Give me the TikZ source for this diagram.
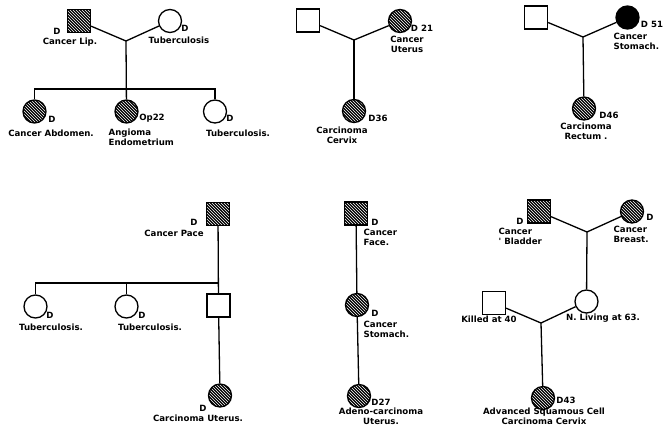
\documentclass[tikz,border=0pt]{standalone}
\usepackage{fontspec}
\usepackage{tikz}
\usetikzlibrary{patterns}
\newfontfamily\pedfont{DejaVu Sans}

\begin{document}
\begin{tikzpicture}[x=1pt,y=-1pt,line width=1.3pt,
    male/.style={draw,rectangle,minimum size=23pt,inner sep=0pt},
    female/.style={draw,circle,minimum size=23pt,inner sep=0pt},
    hatched/.style={preaction={fill=black},pattern=north west lines,pattern color=white},
    dark/.style={fill=black},
    lbl/.style={font=\pedfont\bfseries\fontsize{8.6}{10}\selectfont,inner sep=0pt,align=center}]
    \useasboundingbox (0,0) rectangle (669,426);
    % top left
    \node[male,hatched] (a1) at (79,21) {};
    \node[female] (a2) at (170,21) {};
    \coordinate (aj) at (126,41);
    \coordinate (as) at (126,89);
    \node[female,hatched] (a3) at (34.5,111.5) {};
    \node[female,hatched] (a4) at (126.5,111.5) {};
    \node[female] (a5) at (215,111.5) {};
    \draw (a1) -- (aj) -- (a2);
    \draw (aj) -- (a4);
    \draw (a3) -- (a3 |- as) -- (a5 |- as) -- (a5);
    \node[lbl] at (57,31) {D};
    \node[lbl] at (70,42) {Cancer Lip.};
    \node[lbl] at (185,28) {D};
    \node[lbl] at (179,40) {Tuberculosis};
    \node[lbl] at (52,119) {D};
    \node[lbl] at (51,133) {Cancer Abdomen.};
    \node[lbl] at (152,118) {Op22};
    \node[lbl,anchor=west,align=left] at (108,137) {Angioma\\Endometrium};
    \node[lbl] at (230,118) {D};
    \node[lbl] at (238,133) {Tuberculosis.};
    % top middle
    \node[male] (b1) at (308,20.5) {};
    \node[female,hatched] (b2) at (400,21) {};
    \coordinate (bj) at (354,40);
    \node[female,hatched] (b3) at (354,111) {};
    \draw (b1) -- (bj) -- (b2);
    \draw (bj) -- (b3);
    \node[lbl] at (422,28) {D 21};
    \node[lbl] at (407,44) {Cancer\\Uterus};
    \node[lbl] at (378,118) {D36};
    \node[lbl] at (342,135) {Carcinoma\\Cervix};
    % top right
    \node[male] (c1) at (536,17.5) {};
    \node[female,dark] (c2) at (627.5,17.5) {};
    \coordinate (cj) at (583,37);
    \node[female,hatched] (c3) at (584,108.5) {};
    \draw (c1) -- (cj) -- (c2);
    \draw (cj) -- (c3);
    \node[lbl] at (652,24) {D 51};
    \node[lbl,anchor=west,align=left] at (613,41) {Cancer\\Stomach.};
    \node[lbl] at (609,115) {D46};
    \node[lbl] at (586,131) {Carcinoma\\Rectum .};
    % bottom left
    \node[male,hatched] (d1) at (218,214) {};
    \coordinate (ds) at (218,283);
    \node[female] (d2) at (35.5,306.5) {};
    \node[female] (d3) at (126.5,306.5) {};
    \node[male] (d4) at (218.5,305.5) {};
    \node[female,hatched] (d5) at (220,395.5) {};
    \draw (d1) -- (d4);
    \draw (d2) -- (d2 |- ds) -- (ds);
    \draw (d3) -- (d3 |- ds);
    \draw (d4) -- (d5);
    \node[lbl] at (194,222) {D};
    \node[lbl] at (174,233) {Cancer Pace};
    \node[lbl] at (50,315) {D};
    \node[lbl] at (51,327) {Tuberculosis.};
    \node[lbl] at (142,315) {D};
    \node[lbl] at (150,327) {Tuberculosis.};
    \node[lbl] at (203,408) {D};
    \node[lbl] at (198,418) {Carcinoma Uterus.};
    % bottom middle
    \node[male,hatched] (e1) at (356,213.5) {};
    \node[female,hatched] (e2) at (357,305) {};
    \node[female,hatched] (e3) at (359,396) {};
    \draw (e1) -- (e2) -- (e3);
    \node[lbl] at (375,222) {D};
    \node[lbl,anchor=west,align=left] at (363,237) {Cancer\\Face.};
    \node[lbl] at (375,313) {D};
    \node[lbl,anchor=west,align=left] at (363,329) {Cancer\\Stomach.};
    \node[lbl] at (381,402) {D27};
    \node[lbl] at (381,416) {Adeno-carcinoma\\Uterus.};
    % bottom right
    \node[male,hatched] (f1) at (539,211.5) {};
    \node[female,hatched] (f2) at (632,211.5) {};
    \coordinate (fj) at (587,232);
    \node[female] (f3) at (586.5,301.5) {};
    \node[male] (f4) at (494,303) {};
    \coordinate (fk) at (541,323);
    \node[female,hatched] (f5) at (543,398) {};
    \draw (f1) -- (fj) -- (f2);
    \draw (fj) -- (f3);
    \draw (f4) -- (fk) -- (f3);
    \draw (fk) -- (f5);
    \node[lbl] at (520,221) {D};
    \node[lbl,anchor=west,align=left] at (498,236) {Cancer\\{'} Bladder};
    \node[lbl] at (650,217) {D};
    \node[lbl,anchor=west,align=left] at (613,234) {Cancer\\Breast.};
    \node[lbl] at (603,318) {N. Living at 63.};
    \node[lbl] at (489,319) {Killed at 40};
    \node[lbl] at (566,400) {D43};
    \node[lbl] at (544,416) {Advanced Squamous Cell\\Carcinoma Cervix};
\end{tikzpicture}
\end{document}
